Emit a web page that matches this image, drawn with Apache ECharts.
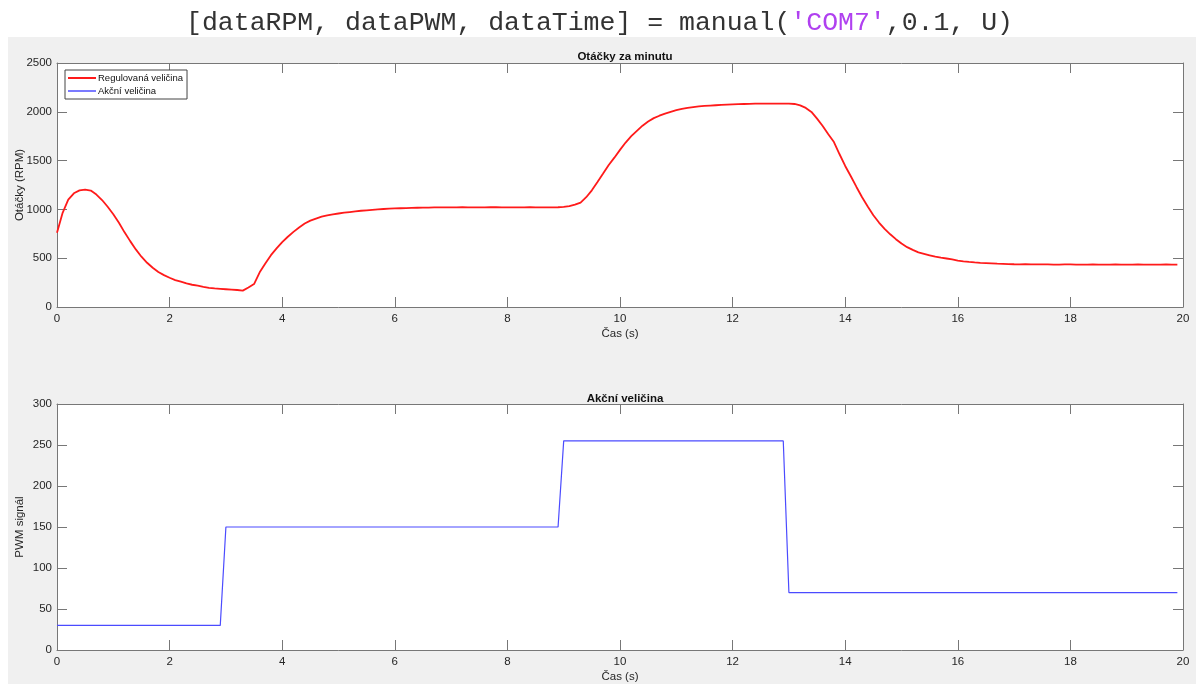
<!DOCTYPE html>
<html lang="cs">
<head>
<meta charset="utf-8">
<title>manual COM7</title>
<script src="https://cdn.jsdelivr.net/npm/echarts@6/dist/echarts.min.js"></script>
</head>
<body style="margin:0;background:#fff">
<div id="main" style="width:1199px;height:684px"></div>
<script>
// čas vzorků (krok 0.1 s)
const timeLabels = [];
for (let i = 0; i < 200; i++) timeLabels.push((i / 10).toFixed(1));

// otáčky
const rpmValues = [
  760, 965, 1100, 1165, 1195, 1203, 1193, 1152, 1096, 1027,
  950, 863, 765, 675, 590, 515, 453, 402, 358, 327,
  300, 276, 259, 241, 228, 218, 207, 197, 190, 186,
  182, 178, 174, 168, 200, 235, 355, 445, 531, 600,
  665, 720, 770, 815, 855, 885, 906, 925, 938, 950,
  958, 966, 973, 980, 986, 991, 996, 1000, 1004, 1007,
  1010, 1012, 1014, 1016, 1017, 1018, 1019, 1020, 1020, 1021,
  1020, 1021, 1022, 1021, 1021, 1020, 1021, 1022, 1022, 1021,
  1021, 1020, 1021, 1021, 1022, 1021, 1020, 1020, 1021, 1022,
  1025, 1033, 1048, 1070, 1125, 1195, 1280, 1367, 1455, 1530,
  1610, 1685, 1750, 1805, 1858, 1900, 1935, 1960, 1982, 2000,
  2016, 2030, 2040, 2048, 2055, 2060, 2064, 2067, 2070, 2073,
  2076, 2078, 2080, 2082, 2083, 2083, 2084, 2084, 2084, 2084,
  2083, 2080, 2066, 2040, 1999, 1930, 1855, 1770, 1690, 1565,
  1445, 1340, 1230, 1125, 1030, 940, 865, 800, 745, 695,
  650, 613, 585, 560, 545, 530, 515, 505, 497, 488,
  475, 468, 462, 457, 453, 450, 447, 444, 442, 440,
  438, 437, 438, 437, 436, 436, 436, 435, 435, 436,
  436, 435, 435, 435, 436, 435, 435, 435, 436, 435,
  435, 435, 436, 435, 435, 435, 435, 436, 435, 435
];

// PWM signál
const pwmValues = [];
const pwmSteps = [[0, 30], [30, 150], [90, 255], [130, 70]]; // [index od, hodnota]
for (let i = 0; i < 200; i++) {
  let v = 30;
  for (const [from, val] of pwmSteps) if (i >= from) v = val;
  pwmValues.push(v);
}

const rpmData = timeLabels.map((t, i) => [+t, rpmValues[i]]);
const pwmData = timeLabels.map((t, i) => [+t, pwmValues[i]]);

const chart = echarts.init(document.getElementById('main'));

const fontFam = '"Liberation Sans", Arial, sans-serif';
const monoFam = '"Liberation Mono", "DejaVu Sans Mono", monospace';
const axisCol = '#777';
const txtCol = '#262626';

function xAxisPair(gridIndex) {
  const base = {
    gridIndex: gridIndex, type: 'value', min: 0, max: 20, interval: 2,
    axisLine: { show: true, onZero: false, lineStyle: { color: axisCol, width: 1 } },
    axisTick: { show: true, inside: true, length: 10, lineStyle: { color: axisCol } },
    splitLine: { show: false }
  };
  return [
    Object.assign({}, base, {
      position: 'bottom',
      axisLabel: { color: txtCol, fontSize: 11.5, fontFamily: fontFam, margin: 6, formatter: v => String(v) },
      name: 'Čas (s)', nameLocation: 'middle', nameGap: 21, nameMoveOverlap: false,
      nameTextStyle: { color: txtCol, fontSize: 11.5, fontFamily: fontFam }
    }),
    Object.assign({}, base, { position: 'top', axisLabel: { show: false } })
  ];
}

function yAxisPair(gridIndex, max, interval, name) {
  const base = {
    gridIndex: gridIndex, type: 'value', min: 0, max: max, interval: interval,
    axisLine: { show: true, onZero: false, lineStyle: { color: axisCol, width: 1 } },
    axisTick: { show: true, inside: true, length: 10, lineStyle: { color: axisCol } },
    splitLine: { show: false }
  };
  return [
    Object.assign({}, base, {
      position: 'left',
      axisLabel: { color: txtCol, fontSize: 11.5, fontFamily: fontFam, margin: 5, formatter: v => String(v) },
      name: name, nameLocation: 'middle', nameGap: 31, nameRotate: 90, nameMoveOverlap: false,
      nameTextStyle: { color: txtCol, fontSize: 11.5, fontFamily: fontFam }
    }),
    Object.assign({}, base, { position: 'right', axisLabel: { show: false } })
  ];
}

const option = {
  backgroundColor: '#fff',
  animation: false,
  graphic: [{
    type: 'rect', z: -100, silent: true,
    shape: { x: 8, y: 37, width: 1188, height: 647 },
    style: { fill: '#f0f0f0' }
  }],
  title: [
    {
      text: '{a|[dataRPM, dataPWM, dataTime] = manual(}{b|\'COM7\'}{a|,0.1, U)}',
      left: 'center', top: 4,
      textStyle: {
        fontWeight: 'normal',
        rich: {
          a: { fontFamily: monoFam, fontSize: 26.5, fontWeight: 'normal', color: '#333' },
          b: { fontFamily: monoFam, fontSize: 26.5, fontWeight: 'normal', color: '#b040f0' }
        }
      }
    },
    {
      text: 'Otáčky za minutu', left: 620, top: 46, textAlign: 'center',
      textStyle: { fontSize: 11.5, fontWeight: 'bold', color: '#111', fontFamily: fontFam }
    },
    {
      text: 'Akční veličina', left: 620, top: 388, textAlign: 'center',
      textStyle: { fontSize: 11.5, fontWeight: 'bold', color: '#111', fontFamily: fontFam }
    }
  ],
  legend: {
    left: 65, top: 70, orient: 'vertical',
    backgroundColor: '#fff', borderColor: '#444', borderWidth: 1,
    padding: [3, 4, 3, 3], itemGap: 3,
    itemWidth: 28, itemHeight: 2, icon: 'rect',
    textStyle: { fontSize: 9.5, color: '#111', fontFamily: fontFam, padding: [0, 0, 0, -3] },
    data: ['Regulovaná veličina', 'Akční veličina']
  },
  grid: [
    { left: 57, right: 16, top: 63, height: 244, show: true, backgroundColor: '#fff', borderWidth: 0, outerBoundsMode: 'none', containLabel: false },
    { left: 57, right: 16, top: 404, height: 246, show: true, backgroundColor: '#fff', borderWidth: 0, outerBoundsMode: 'none', containLabel: false }
  ],
  xAxis: [...xAxisPair(0), ...xAxisPair(1)],
  yAxis: [...yAxisPair(0, 2500, 500, 'Otáčky (RPM)'), ...yAxisPair(1, 300, 50, 'PWM signál')],
  series: [
    {
      name: 'Regulovaná veličina', type: 'line', xAxisIndex: 0, yAxisIndex: 0,
      data: rpmData, showSymbol: false, smooth: false,
      lineStyle: { color: '#ff1a1a', width: 1.8 }, itemStyle: { color: '#ff1a1a' }
    },
    {
      name: 'Akční veličina', type: 'line', xAxisIndex: 2, yAxisIndex: 2,
      data: pwmData, showSymbol: false,
      lineStyle: { color: '#4b4bff', width: 1.2 }, itemStyle: { color: '#7a7aff' }
    }
  ]
};

chart.setOption(option);
</script>
</body>
</html>
